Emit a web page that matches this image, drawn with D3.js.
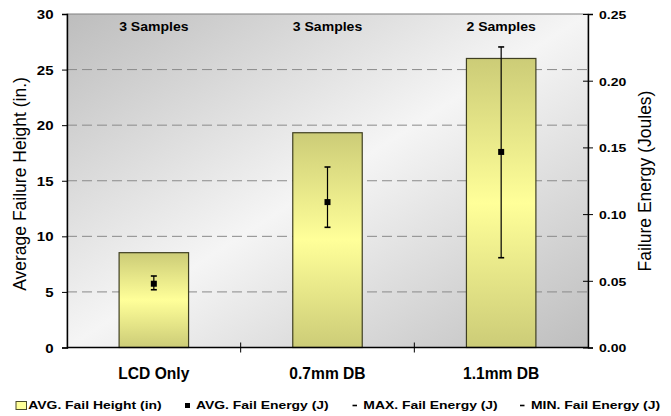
<!DOCTYPE html>
<html><head><meta charset="utf-8">
<script src="https://cdn.jsdelivr.net/npm/d3@7"></script>
<style>body{margin:0;background:#fff}svg{display:block;font-family:Arial,"Liberation Sans",sans-serif}</style>
</head><body><svg id="c" width="671" height="416"></svg>
<script>
const categories = ["LCD Only", "0.7mm DB", "1.1mm DB"];
const sampleLabels = ["3 Samples", "3 Samples", "2 Samples"];
const avgHeight = [8.53, 19.32, 26.0];
const avgEnergy = [0.0478, 0.109, 0.1466];
const maxEnergy = [0.0536, 0.1353, 0.2253];
const minEnergy = [0.0433, 0.0901, 0.0673];
const leftTicks = [0, 5, 10, 15, 20, 25, 30];
const rightTicks = [0, 0.05, 0.10, 0.15, 0.20, 0.25];
const legendItems = ["AVG. Fail Height (in)", "AVG. Fail Energy (J)", "MAX. Fail Energy (J)", "MIN. Fail Energy (J)"];

const svg = d3.select("#c");
const L = 67, R = 588, T = 14, B = 347.5;
const x = d3.scaleBand().domain(categories).range([L, R]).paddingInner(0).paddingOuter(0);
const yL = d3.scaleLinear().domain([0, 30]).range([B, T]);
const yR = d3.scaleLinear().domain([0, 0.25]).range([B, T]);

const defs = svg.append("defs");
const bg = defs.append("linearGradient").attr("id", "bg").attr("x1", 0).attr("y1", 0).attr("x2", 1).attr("y2", 1);
bg.append("stop").attr("offset", 0).attr("stop-color", "#bdbdbd");
bg.append("stop").attr("offset", 0.5).attr("stop-color", "#f5f5f5");
bg.append("stop").attr("offset", 1).attr("stop-color", "#bebebe");
const bar = defs.append("linearGradient").attr("id", "bar").attr("x1", 0).attr("y1", 0).attr("x2", 0).attr("y2", 1);
bar.append("stop").attr("offset", 0).attr("stop-color", "#cccc77");
bar.append("stop").attr("offset", 0.5).attr("stop-color", "#ffff99");
bar.append("stop").attr("offset", 1).attr("stop-color", "#cccc77");

svg.append("rect").attr("x", L).attr("y", T).attr("width", R - L).attr("height", B - T)
  .attr("fill", "url(#bg)").attr("stroke", "#808080").attr("stroke-width", 1);

// gridlines
svg.append("g").selectAll("line").data(leftTicks.filter(d => d > 0 && d < 30)).join("line")
  .attr("x1", L).attr("x2", R).attr("y1", d => yL(d)).attr("y2", d => yL(d))
  .attr("stroke", "#8a8a8a").attr("stroke-dasharray", "10,5").attr("stroke-width", 1);

// bars
svg.append("g").selectAll("rect").data(categories).join("rect")
  .attr("x", d => x(d) + x.bandwidth() * 0.3)
  .attr("width", x.bandwidth() * 0.4)
  .attr("y", (d, i) => yL(avgHeight[i]))
  .attr("height", (d, i) => B - yL(avgHeight[i]))
  .attr("fill", "url(#bar)").attr("stroke", "#3f3f22").attr("stroke-width", 1.2);

// error bars
const eb = svg.append("g");
categories.forEach((c, i) => {
  const cx = x(c) + x.bandwidth() / 2;
  eb.append("line").attr("x1", cx).attr("x2", cx).attr("y1", yR(maxEnergy[i])).attr("y2", yR(minEnergy[i])).attr("stroke", "#000").attr("stroke-width", 1.2);
  [maxEnergy[i], minEnergy[i]].forEach(v => eb.append("line").attr("x1", cx - 3).attr("x2", cx + 3).attr("y1", yR(v)).attr("y2", yR(v)).attr("stroke", "#000").attr("stroke-width", 1.6));
  eb.append("rect").attr("x", cx - 3).attr("y", yR(avgEnergy[i]) - 3).attr("width", 6).attr("height", 6).attr("fill", "#000");
});

// stretched text helper
function stext(g, tx, ty, str, size, sx, anchor, weight) {
  return g.append("text").attr("transform", `translate(${tx},${ty}) scale(${sx},1)`)
    .attr("text-anchor", anchor).attr("font-size", size).attr("font-weight", weight).text(str);
}

// sample labels
const sl = svg.append("g");
categories.forEach((c, i) => stext(sl, x(c) + x.bandwidth() / 2, 31, sampleLabels[i], 12, 1.17, "middle", "bold"));

// axes
const ax = svg.append("g").attr("transform", `translate(${L},0)`)
  .call(d3.axisLeft(yL).tickValues(leftTicks).tickSize(5).tickPadding(5));
ax.select(".domain").attr("stroke", "#000").attr("stroke-width", 1.4);
ax.selectAll(".tick line").attr("x2", -5).attr("x1", 1);
ax.selectAll(".tick text").attr("x", null).attr("dy", "0.38em")
  .attr("transform", "translate(-13.5,0) scale(1.25,1)")
  .attr("font-size", 12).attr("font-weight", "bold").attr("font-family", "Arial, Liberation Sans, sans-serif");

const ar = svg.append("g").attr("transform", `translate(${R},0)`)
  .call(d3.axisRight(yR).tickValues(rightTicks).tickFormat(d3.format(".2f")).tickSize(5).tickPadding(6));
ar.select(".domain").attr("stroke", "#000").attr("stroke-width", 1.4);
ar.selectAll(".tick line").attr("x1", -5);
ar.selectAll(".tick text").attr("x", null).attr("dy", "0.38em")
  .attr("transform", "translate(11,0) scale(1.22,1)")
  .attr("font-size", 11.5).attr("font-weight", "bold").attr("font-family", "Arial, Liberation Sans, sans-serif");

// x axis line and category ticks
svg.append("line").attr("x1", L).attr("x2", R).attr("y1", B).attr("y2", B).attr("stroke", "#000").attr("stroke-width", 1.4);
svg.append("g").selectAll("line").data(categories.slice(1)).join("line")
  .attr("x1", d => x(d)).attr("x2", d => x(d)).attr("y1", B - 5).attr("y2", B + 5).attr("stroke", "#000");
svg.append("g").selectAll("text").data(categories).join("text")
  .attr("x", d => x(d) + x.bandwidth() / 2).attr("y", 379).attr("text-anchor", "middle")
  .attr("font-size", 15.6).attr("font-weight", "bold").text(d => d);

// axis titles
svg.append("text").attr("transform", `translate(26,184) rotate(-90)`).attr("text-anchor", "middle")
  .attr("font-size", 17.5).text("Average Failure Height (in.)");
svg.append("text").attr("transform", `translate(651,181) rotate(-90)`).attr("text-anchor", "middle")
  .attr("font-size", 17.5).text("Failure Energy (Joules)");

// legend
const lg = svg.append("g");
const lx = [28.3, 196, 363.3, 531];
lg.append("rect").attr("x", 16).attr("y", 401.5).attr("width", 10.5).attr("height", 8).attr("fill", "#ffff99").attr("stroke", "#4a4a2a");
lg.append("rect").attr("x", 185).attr("y", 403).attr("width", 5).attr("height", 5).attr("fill", "#000");
lg.append("line").attr("x1", 352.5).attr("x2", 357).attr("y1", 405.5).attr("y2", 405.5).attr("stroke", "#000").attr("stroke-width", 1.6);
lg.append("line").attr("x1", 520).attr("x2", 524.5).attr("y1", 405.5).attr("y2", 405.5).attr("stroke", "#000").attr("stroke-width", 1.6);
legendItems.forEach((t, i) => stext(lg, lx[i], 409.3, t, 11.6, 1.2, "start", "bold"));
</script></body></html>
